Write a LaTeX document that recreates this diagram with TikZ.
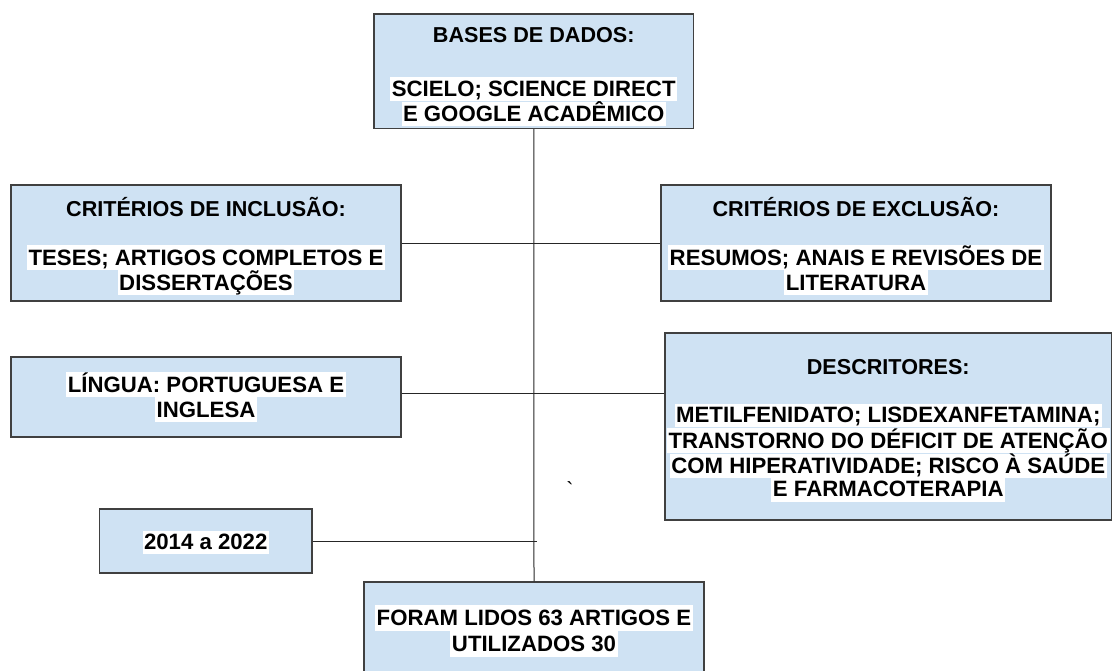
\documentclass[tikz,border=0pt]{standalone}
\usepackage{fontspec}
\setmainfont{Liberation Sans}
\definecolor{boxblue}{HTML}{CFE2F3}
\definecolor{edgegray}{HTML}{404040}
\setlength{\fboxsep}{0pt}
\newcommand{\hl}[1]{\colorbox{white}{\kern1.5pt\rule[-0.2\baselineskip]{0pt}{\baselineskip}{\fontsize{22.2}{22}\selectfont #1}\kern1.5pt}}
\newcommand{\ttl}[2]{\rule[-0.2\baselineskip]{0pt}{\dimexpr\baselineskip+#1\relax}#2}
\tikzset{
  box/.style={draw=edgegray, line width=1.2pt, fill=boxblue, inner sep=0pt, align=center,
              font=\bfseries\fontsize{21.6}{#1}\selectfont},
  box/.default=23.3,
  conn/.style={draw=black!85, line width=1pt}
}
\begin{document}
\begin{tikzpicture}[x=1pt,y=-1pt]
\useasboundingbox (0,0) rectangle (1113,670);

\node[box=23.3, minimum width=319.5pt, minimum height=114.5pt] (bases) at (533.75,71.25)
  {\ttl{7.4pt}{BASES DE DADOS:}\\[30.4pt]\hl{SCIELO; SCIENCE DIRECT}\\\hl{E GOOGLE ACADÊMICO}};

\node[box=25, minimum width=390pt, minimum height=116pt] (inc) at (206,243)
  {\ttl{5.4pt}{CRITÉRIOS DE INCLUSÃO:}\\[24.3pt]\hl{TESES; ARTIGOS COMPLETOS E}\\\hl{DISSERTAÇÕES}};

\node[box=25, minimum width=390pt, minimum height=116pt] (exc) at (856,243)
  {\ttl{5.4pt}{CRITÉRIOS DE EXCLUSÃO:}\\[24.3pt]\hl{RESUMOS; ANAIS E REVISÕES DE}\\\hl{LITERATURA}};

\node[box=25, minimum width=390pt, minimum height=80pt] (lin) at (206,397)
  {\hl{LÍNGUA: PORTUGUESA E}\\\hl{INGLESA}};

\node[box=23.3, minimum width=446.5pt, minimum height=187pt] (desc) at (888.25,426.5)
  {\ttl{4.4pt}{DESCRITORES:}\\[25pt]\hl{METILFENIDATO; LISDEXANFETAMINA;}\\\hl{TRANSTORNO DO DÉFICIT DE ATENÇÃO}\\\hl{COM HIPERATIVIDADE; RISCO À SAÚDE}\\\hl{E FARMACOTERAPIA}};

\node[box=23.3, minimum width=212.5pt, minimum height=64pt] (yr) at (205.75,541)
  {\ttl{3pt}{}\hl{2014 a 2022}};

\node[box=26, minimum width=340pt, minimum height=97pt] (bot) at (534,630.5)
  {\hl{FORAM LIDOS 63 ARTIGOS E}\\\hl{UTILIZADOS 30}};

\node[font=\fontsize{21.6}{23}\selectfont, anchor=base, inner sep=0pt] (tick) at (570,497) {\textasciigrave};

\draw[conn] (bases.south) -- (bot.north);
\draw[conn] (inc.east) -- (exc.west);
\path ([yshift=3.5pt]lin.east) coordinate (linR);
\draw[conn] (linR) -- (linR -| desc.west);
\draw[conn] (yr.east) -- (yr.east -| bases.south) -- ++(3,0);
\end{tikzpicture}
\end{document}
